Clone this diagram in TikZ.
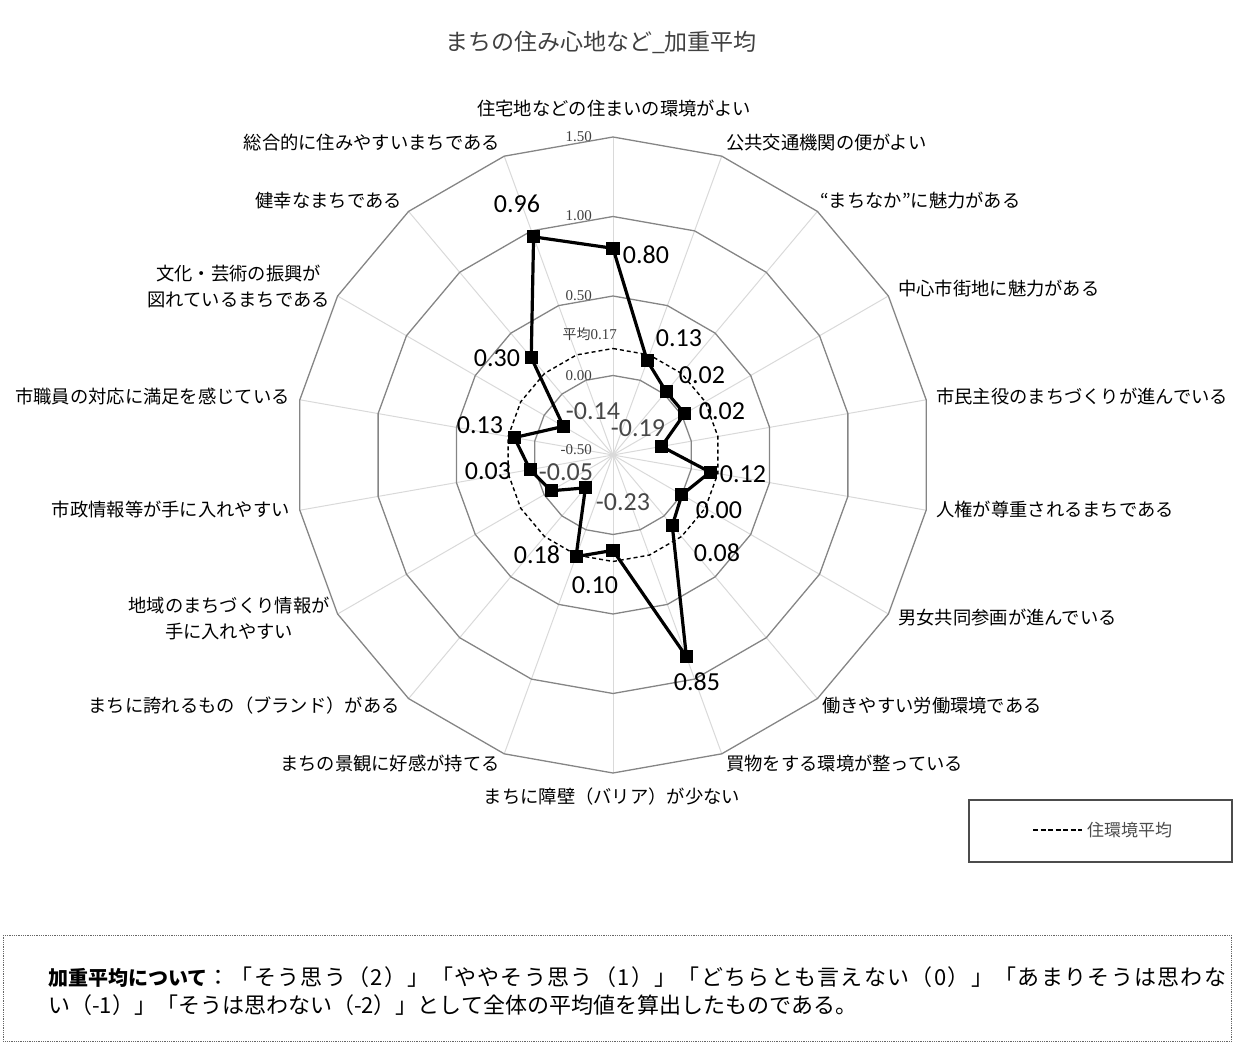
\documentclass[tikz,border=0pt]{standalone}
\usepackage{fontspec}
\setmainfont{Noto Sans CJK JP}
\newfontfamily\numfont{Carlito}
\newfontfamily\ringfont{Liberation Serif}
\usetikzlibrary{positioning}

\begin{document}
\begin{tikzpicture}[x=1pt,y=1pt,
  ring/.style={draw=black!48, line width=1.3pt, line join=round},
  spoke/.style={draw=black!15, line width=1pt},
  avgline/.style={draw=black, dash pattern=on 4pt off 3pt, line width=1.4pt},
  dataline/.style={draw=black, line width=3.2pt, line join=round},
  sq/.style={fill=black, minimum size=13pt, inner sep=0pt},
  vlab/.style={font=\numfont\fontsize{26}{26}\selectfont, inner sep=0pt},
  vneg/.style={vlab, text=black!72},
  scl/.style={font=\ringfont\fontsize{15}{15}\selectfont, text=black!75, inner sep=0pt, anchor=east},
  cat/.style={font=\fontsize{18.3}{26}\selectfont, inner sep=0pt, align=center}]
\useasboundingbox (-613,-588) rectangle (621,455);

% title
\node[font=\fontsize{23}{23}\selectfont, text=black!75] (title) at (-12,413) {まちの住み心地など\_加重平均};

% grid
\foreach \a in {90,70,...,-250}
  \draw[spoke] (0,0) -- (\a:318);
\foreach \r in {79.5,159,238.5,318}
  \draw[ring] (90:\r) \foreach \a in {70,50,...,-250} { -- (\a:\r) } -- cycle;

% scale
\node[scl] (s150) at (-21,318) {1.50};
\node[scl] (s100) at (-21,239) {1.00};
\node[scl] (s050) at (-21,159) {0.50};
\node[scl] (s000) at (-21,79) {0.00};
\node[scl] (s050n) at (-21,5) {-0.50};
\node[scl] (savg) at (4,121) {{\rmfamily\fontsize{14}{14}\selectfont 平均}0.17};

% average 0.17
\draw[avgline] (90:106.5) \foreach \a in {70,50,...,-250} { -- (\a:106.5) } -- cycle;

% data
\foreach \v [count=\i from 0] in {0.80,0.13,0.02,0.02,-0.19,0.12,0.00,0.08,0.85,0.10,0.18,-0.23,-0.05,0.03,0.13,-0.14,0.30,0.96}
  \coordinate (p\i) at ({90-20*\i}:{159*(\v+0.5)});
\draw[dataline] (p0) -- (p1) -- (p2) -- (p3) -- (p4) -- (p5) -- (p6) -- (p7) -- (p8)
  -- (p9) -- (p10) -- (p11) -- (p12) -- (p13) -- (p14) -- (p15) -- (p16) -- (p17) -- cycle;
\foreach \i in {0,...,17}
  \node[sq] (m\i) at (p\i) {};

% value labels
\node[vlab] (v0) at (33,200) {0.80};
\node[vlab] (v1) at (66,117) {0.13};
\node[vlab] (v2) at (89,80) {0.02};
\node[vlab] (v3) at (109,44) {0.02};
\node[vneg] (v4) at (25,27) {-0.19};
\node[vlab] (v5) at (130,-19) {0.12};
\node[vlab] (v6) at (106,-55) {0.00};
\node[vlab] (v7) at (104,-98) {0.08};
\node[vlab] (v8) at (84,-227) {0.85};
\node[vlab] (v9) at (-18,-130) {0.10};
\node[vlab] (v10) at (-76,-100) {0.18};
\node[vneg] (v11) at (10,-47) {-0.23};
\node[vneg] (v12) at (-47,-17) {-0.05};
\node[vlab] (v13) at (-125,-16) {0.03};
\node[vlab] (v14) at (-133,30) {0.13};
\node[vneg] (v15) at (-20,44) {-0.14};
\node[vlab] (v16) at (-116,97) {0.30};
\node[vlab] (v17) at (-96,251) {0.96};

% axis labels
\node[cat] (c0) at (1,347) {住宅地などの住まいの環境がよい};
\node[cat, anchor=west] (c1) at (113,312) {公共交通機関の便がよい};
\node[cat, anchor=west] (c2) at (207,254) {“まちなか”に魅力がある};
\node[cat, anchor=west] (c3) at (285,166) {中心市街地に魅力がある};
\node[cat, anchor=west] (c4) at (323,58) {市民主役のまちづくりが進んでいる};
\node[cat, anchor=west] (c5) at (323,-55) {人権が尊重されるまちである};
\node[cat, anchor=west] (c6) at (285,-163) {男女共同参画が進んでいる};
\node[cat, anchor=west] (c7) at (209,-251) {働きやすい労働環境である};
\node[cat, anchor=west] (c8) at (113,-309) {買物をする環境が整っている};
\node[cat] (c9) at (-1,-342) {まちに障壁（バリア）が少ない};
\node[cat, anchor=east] (c10) at (-113,-309) {まちの景観に好感が持てる};
\node[cat, anchor=east] (c11) at (-213,-251) {まちに誇れるもの（ブランド）がある};
\node[cat, anchor=east] (c12) at (-283,-163) {地域のまちづくり情報が\\手に入れやすい};
\node[cat, anchor=east] (c13) at (-323,-55) {市政情報等が手に入れやすい};
\node[cat, anchor=east] (c14) at (-323,58) {市職員の対応に満足を感じている};
\node[cat, anchor=east] (c15) at (-283,169) {文化・芸術の振興が\\図れているまちである};
\node[cat, anchor=east] (c16) at (-211,254) {健幸なまちである};
\node[cat, anchor=east] (c17) at (-113,312) {総合的に住みやすいまちである};

% legend
\node[draw=black!70, line width=1.2pt, minimum width=263pt, minimum height=62pt, inner sep=0pt] (lgd) at (487.5,-376) {};
\coordinate (lgA) at (420,-375);
\coordinate (lgB) at (469,-375);
\draw[draw=black, dash pattern=on 5pt off 2.5pt, line width=2pt] (lgA) -- (lgB);
\node[right=5pt of lgB, inner sep=0pt, font=\fontsize{17}{17}\selectfont, text=black!70] (lgT) {住環境平均};

% note
\node[draw=black!60, densely dotted, line width=0.8pt, minimum width=1228pt, minimum height=106pt, inner sep=0pt, anchor=north west] (note) at (-610,-480) {};
\node[anchor=west, inner sep=0pt, font=\fontsize{22}{22}\selectfont] (n1) at (-565,-522)
  {{\bfseries\fontsize{20}{20}\selectfont 加重平均について}{\addfontfeature{LetterSpace=6}：「そう思う（2）」「ややそう思う（1）」「どちらとも言えない（0）」「あまりそうは思わな}};
\node[anchor=west, inner sep=0pt, font=\fontsize{22}{22}\selectfont] (n2) at (-565,-550)
  {い（-1）」「そうは思わない（-2）」として全体の平均値を算出したものである。};
\end{tikzpicture}
\end{document}
